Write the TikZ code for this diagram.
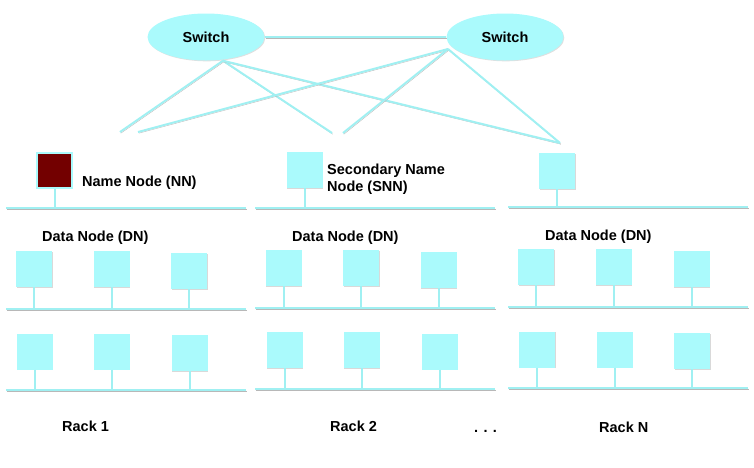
\documentclass[tikz,border=0pt]{standalone}
\usepackage{fontspec}
\setmainfont{Liberation Sans}
\usetikzlibrary{shapes.geometric,shadows,calc}
\definecolor{cy}{RGB}{170,250,252}
\definecolor{cyl}{RGB}{160,240,242}
\definecolor{nnred}{RGB}{115,0,0}
\begin{document}
\begin{tikzpicture}[x=1pt,y=-1pt,
  lbl/.style={anchor=base west,inner sep=0pt,font=\fontsize{14.5}{18}\selectfont\bfseries},
  swnode/.style={ellipse,fill=cy,minimum width=117pt,minimum height=47pt,inner sep=0pt,
     font=\fontsize{14.5}{18}\selectfont\bfseries,
     drop shadow={shadow xshift=0.8pt,shadow yshift=-0.8pt,opacity=0.25}},
  srv/.style={rectangle,fill=cy,minimum width=36pt,minimum height=36pt,inner sep=0pt,
     drop shadow={shadow xshift=0.8pt,shadow yshift=-0.8pt,opacity=0.3}},
  nn/.style={rectangle,fill=nnred,draw=cy,line width=1.2pt,minimum width=35pt,minimum height=35pt,inner sep=0pt,
     drop shadow={shadow xshift=0.8pt,shadow yshift=-0.8pt,opacity=0.3}},
  shd/.style={preaction={draw=black!28,transform canvas={shift={(0.8pt,-1.2pt)}}}},
  link/.style={draw=cyl,line width=2pt,shd},
  bus/.style={draw=cyl,line width=2.6pt,shd},
  stem/.style={draw=cyl,line width=2pt}]
\useasboundingbox (0,0) rectangle (754,467);

% switches
\node[swnode] (sw1) at (206,37) {Switch};
\node[swnode] (sw2) at (505,37) {Switch};
\draw[link] (sw1.east) -- (sw2.west);

\coordinate (e1) at (120,132);
\coordinate (e2) at (138,132);
\coordinate (e3) at (332,133);
\coordinate (e4) at (343,133);
\coordinate (e5) at (560,143);
\coordinate (o1) at ([xshift=17pt]sw1.south);
\coordinate (o2) at ($(sw2.center)+(-57,12)$);
\draw[link] (o1) -- (e1);
\draw[link] (o1) -- (e3);
\draw[link] (o1) -- (e5);
\draw[link] (o2) -- (e2);
\draw[link] (o2) -- (e4);
\draw[link] (o2) -- (e5);

% buses
\coordinate (b1tl) at (6,208);   \coordinate (b1tr) at (246,208);
\coordinate (b1al) at (6,309);   \coordinate (b1ar) at (246,309);
\coordinate (b1bl) at (6,390);   \coordinate (b1br) at (246,390);
\coordinate (b2tl) at (255,208); \coordinate (b2tr) at (495,208);
\coordinate (b2al) at (255,308); \coordinate (b2ar) at (495,308);
\coordinate (b2bl) at (255,389); \coordinate (b2br) at (495,389);
\coordinate (b3tl) at (508,207); \coordinate (b3tr) at (748,207);
\coordinate (b3al) at (508,307); \coordinate (b3ar) at (748,307);
\coordinate (b3bl) at (508,388); \coordinate (b3br) at (748,388);

% top servers
\node[nn]  (nn1) at (54.5,170.5) {};
\node[srv] (snn) at (304.5,170) {};
\node[srv] (top3) at (557,171) {};
\draw[stem] (nn1.south) -- (nn1.south |- b1tl);
\draw[stem] (snn.south) -- (snn.south |- b2tl);
\draw[stem] (top3.south) -- (top3.south |- b3tl);

% data nodes
\foreach \n/\x/\y/\b in {
  a1/34/269/b1al, a2/111.5/269/b1al, a3/189/271/b1al,
  c1/34.5/351.5/b1bl, c2/111.5/351.5/b1bl, c3/189.5/353/b1bl,
  d1/283.5/268/b2al, d2/361/268/b2al, d3/438.5/270/b2al,
  f1/284.5/350/b2bl, f2/361.5/350/b2bl, f3/439.5/351.5/b2bl,
  g1/536/267/b3al, g2/613.5/267/b3al, g3/691.5/269/b3al,
  h1/537/349.5/b3bl, h2/614.5/349.5/b3bl, h3/692/351/b3bl}{
  \node[srv] (\n) at (\x,\y) {};
  \draw[stem] (\n.south) -- (\n.south |- \b);
}

\draw[bus] (b1tl) -- (b1tr);
\draw[bus] (b1al) -- (b1ar);
\draw[bus] (b1bl) -- (b1br);
\draw[bus] (b2tl) -- (b2tr);
\draw[bus] (b2al) -- (b2ar);
\draw[bus] (b2bl) -- (b2br);
\draw[bus] (b3tl) -- (b3tr);
\draw[bus] (b3al) -- (b3ar);
\draw[bus] (b3bl) -- (b3br);

% labels
\node[lbl] (tnn) at (82,186) {Name Node (NN)};
\node[lbl] (tsnn1) at (327,174.3) {Secondary Name};
\node[lbl] (tsnn2) at (327,191.7) {Node (SNN)};
\node[lbl] (dn1) at (42,241.7) {Data Node (DN)};
\node[lbl] (dn2) at (292,241) {Data Node (DN)};
\node[lbl] (dn3) at (545,240) {Data Node (DN)};
\node[lbl] (r1) at (62,431.5) {Rack 1};
\node[lbl] (r2) at (330,431.5) {Rack 2};
\node[lbl] (dots) at (474,432) {. . .};
\node[lbl] (rn) at (599,432) {Rack N};
\end{tikzpicture}
\end{document}
